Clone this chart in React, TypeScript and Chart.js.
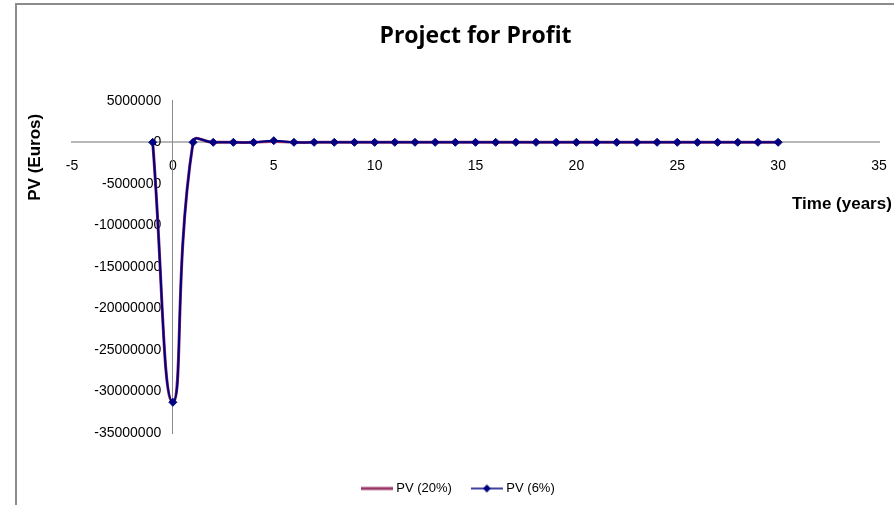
import React, { useEffect, useRef } from 'react';
import { Chart, registerables } from 'chart.js';

Chart.register(...registerables);

// Project cash flows discounted at two rates, one point per year
const years = [-1, 0, 1, 2, 3, 4, 5, 6, 7, 8, 9, 10, 11, 12, 13, 14, 15, 16, 17, 18, 19, 20, 21, 22, 23, 24, 25, 26, 27, 28, 29, 30];
const pv20 = [0, -31300000, 0, 0, 0, 0, 100000, 0, 0, 0, 0, 0, 0, 0, 0, 0, 0, 0, 0, 0, 0, 0, 0, 0, 0, 0, 0, 0, 0, 0, 0, 0];
const pv6 = [0, -31300000, 0, 0, 0, 0, 200000, 0, 0, 0, 0, 0, 0, 0, 0, 0, 0, 0, 0, 0, 0, 0, 0, 0, 0, 0, 0, 0, 0, 0, 0, 0];

const seriesNames = ['PV (20%)', 'PV (6%)'];
const seriesColors = ['#993366', '#000080'];

const xMin = -5;
const xMax = 35;
const xStep = 5;
const yMin = -35000000;
const yMax = 5000000;
const yStep = 5000000;

const chartTitle = 'Project for Profit';
const yTitle = 'PV (Euros)';
const xTitle = 'Time (years)';

const FONT = '"Liberation Sans", Arial, sans-serif';

function legendSample(color: string, width: number, diamond: boolean): HTMLCanvasElement {
  const c = document.createElement('canvas');
  c.width = 32;
  c.height = 10;
  const g = c.getContext('2d')!;
  g.strokeStyle = color;
  g.lineWidth = width;
  g.beginPath();
  g.moveTo(0, 5);
  g.lineTo(32, 5);
  g.stroke();
  if (diamond) {
    g.fillStyle = color;
    g.beginPath();
    g.moveTo(16, 1);
    g.lineTo(20, 5);
    g.lineTo(16, 9);
    g.lineTo(12, 5);
    g.closePath();
    g.fill();
  }
  return c;
}

// Axis captions placed the way the spreadsheet chart shows them
const axisCaptions = {
  id: 'axisCaptions',
  afterDraw(chart: any) {
    const { ctx } = chart;
    const x0 = chart.scales.x.getPixelForValue(0);
    const y0 = chart.scales.y.getPixelForValue(0);
    ctx.save();
    ctx.fillStyle = '#000';
    ctx.textBaseline = 'middle';
    ctx.font = `bold 17px ${FONT}`;
    ctx.textAlign = 'center';
    ctx.translate(x0 - 138, y0 + 15);
    ctx.rotate(-Math.PI / 2);
    ctx.fillText(yTitle, 0, 0);
    ctx.restore();

    ctx.save();
    ctx.fillStyle = '#000';
    ctx.textBaseline = 'middle';
    ctx.textAlign = 'left';
    ctx.font = `bold 17px ${FONT}`;
    ctx.fillText(xTitle, chart.chartArea.right - 87, y0 + 62);
    ctx.restore();
  },
};

export default function App() {
  const canvasRef = useRef<HTMLCanvasElement | null>(null);

  useEffect(() => {
    if (!canvasRef.current) return;
    const samples = [
      legendSample(seriesColors[0], 3, false),
      legendSample(seriesColors[1], 1.5, true),
    ];
    // trailing room after the last entry keeps the legend block left of centre
    const legendTexts = [seriesNames[0], seriesNames[1] + '         '];

    const chart = new Chart(canvasRef.current, {
      type: 'line',
      data: {
        datasets: [
          {
            label: seriesNames[0],
            data: years.map((x, i) => ({ x, y: pv20[i] })),
            borderColor: seriesColors[0],
            backgroundColor: seriesColors[0],
            borderWidth: 3,
            pointRadius: 0,
            tension: 0.5,
            order: 1,
          },
          {
            label: seriesNames[1],
            data: years.map((x, i) => ({ x, y: pv6[i] })),
            borderColor: seriesColors[1],
            backgroundColor: seriesColors[1],
            borderWidth: 2,
            pointStyle: 'rectRot',
            pointRadius: 4,
            pointBorderWidth: 1,
            tension: 0.5,
            order: 0,
          },
        ],
      },
      options: {
        animation: false,
        responsive: true,
        maintainAspectRatio: false,
        layout: { padding: { left: 72, right: 15, top: 0, bottom: 0 } },
        font: { family: FONT },
        scales: {
          x: {
            type: 'linear',
            position: { y: 0 } as any,
            min: xMin,
            max: xMax,
            grid: { display: false, drawTicks: false, tickLength: 0 },
            border: { display: true, color: '#b8b8b8', width: 2 },
            ticks: {
              stepSize: xStep,
              padding: 15,
              color: '#000',
              font: { family: FONT, size: 14 },
              maxRotation: 0,
              autoSkip: false,
            },
            afterFit: (scale: any) => {
              scale.paddingLeft = 0;
              scale.paddingRight = 0;
            },
          },
          y: {
            type: 'linear',
            position: { x: 0 } as any,
            min: yMin,
            max: yMax,
            grid: { display: false, drawTicks: false, tickLength: 0 },
            border: { display: true, color: '#8a8a8a', width: 1 },
            ticks: {
              stepSize: yStep,
              color: '#000',
              font: { family: FONT, size: 14 },
              autoSkip: false,
              callback: (v: any) => `${v}   `,
            },
          },
        },
        plugins: {
          title: {
            display: true,
            text: chartTitle,
            color: '#000',
            font: { family: '"Open Sans", ' + FONT, size: 23, weight: 'bold' },
            padding: { top: 22.2, bottom: 51 },
          },
          legend: {
            display: true,
            position: 'bottom',
            title: { display: true, text: ' ', font: { size: 10 }, padding: { top: 0, bottom: 15 } },
            labels: {
              usePointStyle: true,
              pointStyleWidth: 26,
              padding: 22,
              color: '#000',
              font: { family: FONT, size: 13 },
              generateLabels: () =>
                legendTexts.map((name, i) => ({
                  text: name,
                  pointStyle: samples[i] as any,
                  fillStyle: seriesColors[i],
                  strokeStyle: seriesColors[i],
                  lineWidth: 0,
                  hidden: false,
                  datasetIndex: i,
                  fontColor: '#000',
                })),
            },
          },
          tooltip: { enabled: false },
        },
      },
      plugins: [axisCaptions],
    });

    return () => chart.destroy();
  }, []);

  return (
    <div
      style={{
        position: 'fixed',
        left: 0,
        top: 0,
        width: 894,
        height: 505,
        overflow: 'hidden',
        background: '#fff',
      }}
    >
      <div
        style={{
          position: 'absolute',
          left: 15,
          top: 3,
          width: 2000,
          height: 2000,
          border: '2px solid #8c8c8c',
        }}
      />
      <canvas ref={canvasRef} style={{ position: 'absolute', left: 0, top: 0 }} />
    </div>
  );
}
